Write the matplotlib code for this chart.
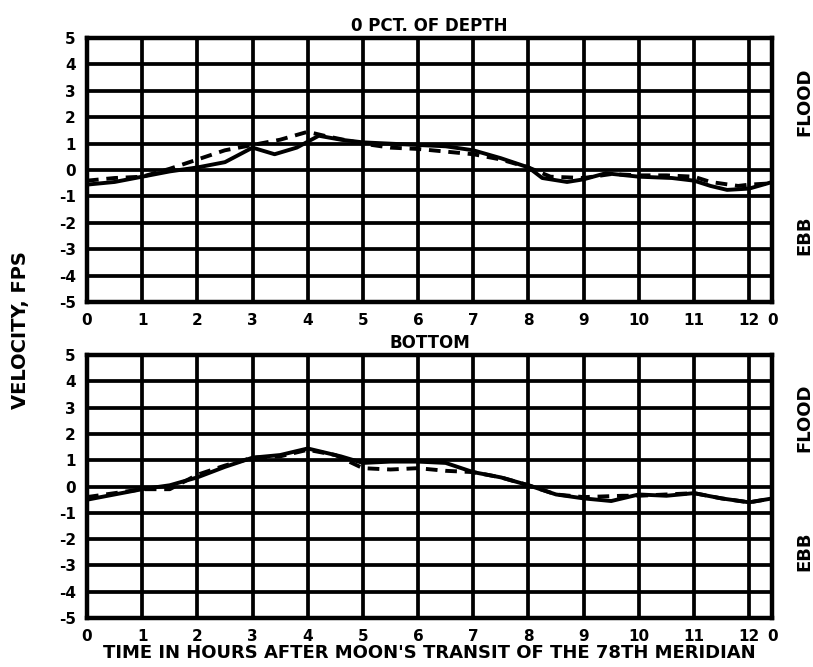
import matplotlib.pyplot as plt

# hours after moon's transit, velocity in fps
top_solid_h = [0, 0.5, 1, 1.5, 2, 2.5, 3, 3.4, 3.8, 4.2, 4.6, 5, 5.5, 6, 6.5, 7, 7.5, 8, 8.25, 8.7, 9, 9.4, 10, 10.6, 11, 11.3, 11.6, 12, 12.42]
top_solid_v = [-0.55, -0.45, -0.25, -0.05, 0.1, 0.3, 0.85, 0.6, 0.85, 1.3, 1.15, 1.05, 1.0, 0.95, 0.9, 0.75, 0.45, 0.1, -0.3, -0.45, -0.35, -0.12, -0.25, -0.3, -0.4, -0.6, -0.75, -0.7, -0.45]
top_dash_h = [0, 0.5, 1, 1.5, 2, 2.5, 3, 3.5, 4, 4.3, 5, 5.5, 6, 6.5, 7, 7.5, 8, 8.4, 9, 9.5, 10, 10.5, 11, 11.3, 11.8, 12, 12.42]
top_dash_v = [-0.4, -0.3, -0.25, 0.05, 0.4, 0.75, 0.95, 1.15, 1.45, 1.3, 1.0, 0.85, 0.8, 0.7, 0.6, 0.4, 0.1, -0.25, -0.3, -0.15, -0.2, -0.2, -0.25, -0.45, -0.6, -0.55, -0.5]

bot_solid_h = [0, 0.5, 1, 1.5, 2, 2.5, 3, 3.5, 4, 4.2, 4.6, 5, 5.5, 6, 6.5, 7, 7.5, 8, 8.5, 9, 9.5, 10, 10.5, 11, 11.5, 12, 12.42]
bot_solid_v = [-0.5, -0.3, -0.1, 0.05, 0.35, 0.75, 1.1, 1.2, 1.45, 1.35, 1.15, 0.9, 0.95, 0.95, 0.9, 0.55, 0.35, 0.05, -0.3, -0.45, -0.55, -0.3, -0.35, -0.25, -0.45, -0.6, -0.45]
bot_dash_h = [0, 0.5, 1, 1.5, 2, 2.5, 3, 3.5, 4, 4.5, 5, 5.5, 6, 6.5, 7, 7.5, 8, 8.5, 9, 9.7, 10, 10.5, 11, 11.5, 12, 12.42]
bot_dash_v = [-0.4, -0.25, -0.1, -0.1, 0.45, 0.8, 1.1, 1.15, 1.4, 1.2, 0.7, 0.65, 0.7, 0.6, 0.55, 0.35, 0.05, -0.3, -0.4, -0.35, -0.35, -0.3, -0.25, -0.45, -0.6, -0.45]

titles = ["0 PCT. OF DEPTH", "BOTTOM"]
hour_ticks = list(range(13)) + [12.42]
hour_labels = [str(h) for h in range(13)] + ["0"]
vel_ticks = list(range(-5, 6))

plt.rcParams['font.family'] = 'DejaVu Sans'
plt.rcParams['font.weight'] = 'bold'

fig = plt.figure(figsize=(8.13, 6.67), dpi=100)
ax1 = fig.add_axes([0.107, 0.547, 0.843, 0.396])
ax2 = fig.add_axes([0.107, 0.0735, 0.843, 0.394])

panels = [(ax1, top_solid_h, top_solid_v, top_dash_h, top_dash_v),
          (ax2, bot_solid_h, bot_solid_v, bot_dash_h, bot_dash_v)]

for (ax, sh, sv, dh, dv), title in zip(panels, titles):
    for h in range(13):
        ax.axvline(h, color='black', lw=2.7, zorder=1)
    for v in vel_ticks:
        ax.axhline(v, color='black', lw=2.7, zorder=1)
    ax.plot(sh, sv, color='black', lw=2.8, solid_joinstyle='round', zorder=3)
    ax.plot(dh, dv, color='black', lw=2.8, ls=(0, (3, 2)), zorder=3)
    ax.set_xlim(0, 12.42)
    ax.set_ylim(-5, 5)
    ax.set_xticks(hour_ticks)
    ax.set_xticklabels(hour_labels)
    ax.set_yticks(vel_ticks)
    ax.set_yticklabels([str(v) if v >= 0 else '-' + str(-v) for v in vel_ticks])
    ax.tick_params(length=0, labelsize=11, pad=8)
    for s in ax.spines.values():
        s.set_linewidth(3.2)
    ax.set_title(title, fontsize=12, fontweight='bold', pad=5)
    ax.text(1.046, 0.76, "FLOOD", transform=ax.transAxes, rotation=90,
            ha='center', va='center', fontsize=13, fontweight='bold')
    ax.text(1.046, 0.255, "EBB", transform=ax.transAxes, rotation=90,
            ha='center', va='center', fontsize=13, fontweight='bold')

fig.text(0.025, 0.505, "VELOCITY, FPS", rotation=90, ha='center', va='center',
         fontsize=14, fontweight='bold')
ax2.set_xlabel("TIME IN HOURS AFTER MOON'S TRANSIT OF THE 78TH MERIDIAN",
               fontsize=13, fontweight='bold', labelpad=0)

fig.savefig('out.png', dpi=100)
